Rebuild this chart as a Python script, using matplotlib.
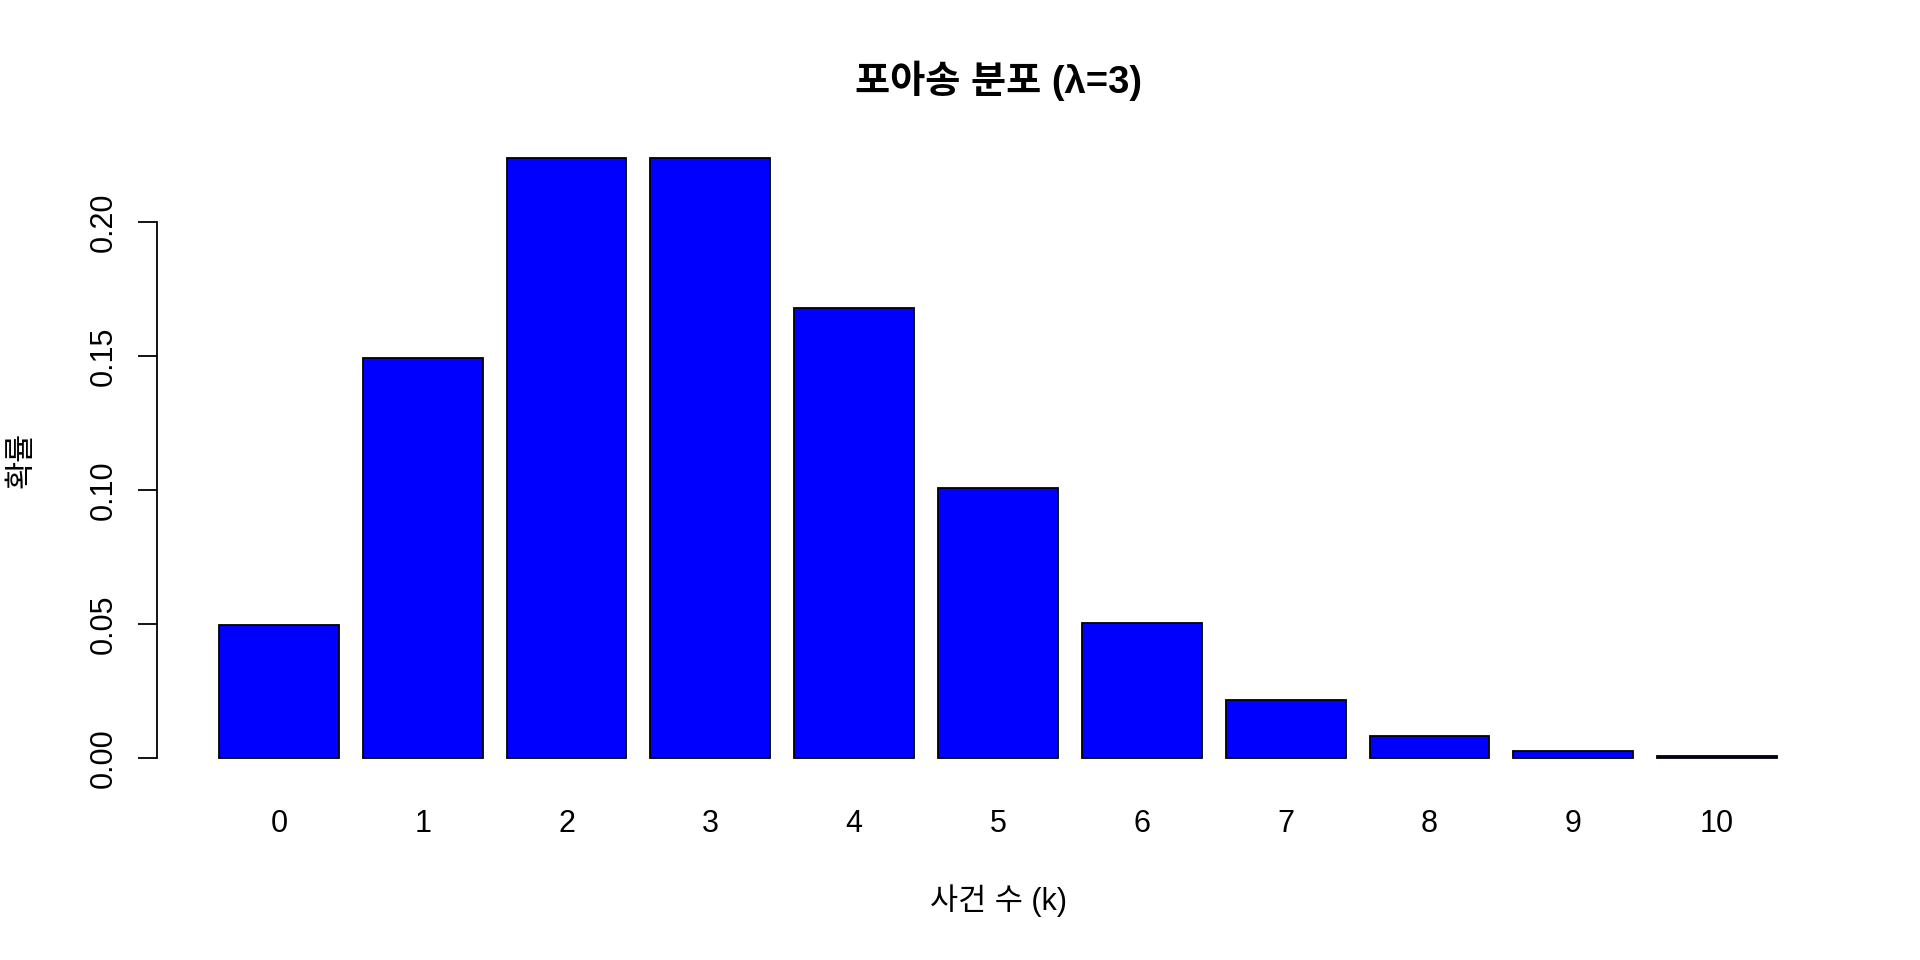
import numpy as np
import matplotlib
matplotlib.use('Agg')
from matplotlib import pyplot as plt

plt.rcParams['font.family'] = ['Liberation Sans', 'Noto Sans CJK KR', 'DejaVu Sans']

# data
k_values = ['0', '1', '2', '3', '4', '5', '6', '7', '8', '9', '10']
probs = [0.0498, 0.1494, 0.2240, 0.2240, 0.1680, 0.1008, 0.0504, 0.0216, 0.0081, 0.0027, 0.0008]
title = '포아송 분포 (λ=3)'
x_label = '사건 수 (k)'
y_label = '확률'
y_ticks = [0.00, 0.05, 0.10, 0.15, 0.20]

fig = plt.figure(figsize=(19.2, 9.6), dpi=100)
ax = fig.add_axes([0.0816, 0.1854, 0.958 - 0.0816, 0.8605 - 0.1854])

# R barplot style positions: width 1, space 0.2
pos = 0.2 + 1.2 * np.arange(len(probs)) + 0.5
ax.bar(pos, probs, width=1.0, color='#0000ff', edgecolor='black', linewidth=1.3)

ax.set_xlim(-0.32, 13.72)
ax.set_ylim(-0.00896, 0.23296)

for s in ['top', 'right', 'bottom']:
    ax.spines[s].set_visible(False)
ax.spines['left'].set_bounds(0, 0.2)
ax.spines['left'].set_linewidth(1.3)

ax.set_xticks(pos)
ax.set_xticklabels(k_values, fontsize=22)
ax.tick_params(axis='x', length=0, pad=19.5)

ax.set_yticks(y_ticks)
ax.set_yticklabels(['%.2f' % v for v in y_ticks], fontsize=22, rotation=90, va='center')
ax.tick_params(axis='y', length=13.5, width=1.3, pad=14)

fig.text(0.5 * (0.0816 + 0.958), 1 - 81 / 960, title, fontsize=27.5, fontweight='bold',
         ha='center', va='center')
fig.text(0.5 * (0.0816 + 0.958), 1 - 901 / 960, x_label, fontsize=22, ha='center', va='center')
fig.text(22 / 1920, 1 - 460 / 960, y_label, fontsize=22, rotation=90, ha='center', va='center')

fig.savefig('out.png', dpi=100)
